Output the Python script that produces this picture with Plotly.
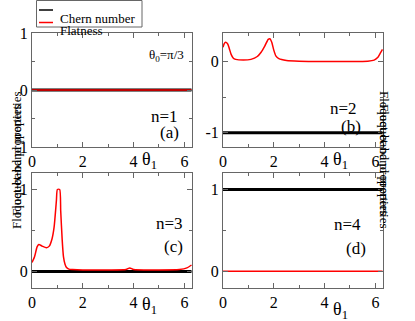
import plotly.graph_objects as go

# data
theta_flat = [0.0, 6.28]

chern_a = [0, 0]
flat_a = [0, 0]

theta_b = [0.0, 0.05, 0.1, 0.18, 0.25, 0.32, 0.4, 0.5, 0.8, 1.1, 1.35, 1.5, 1.65,
           1.78, 1.85, 1.92, 2.0, 2.08, 2.2, 2.5, 3.0, 4.0, 5.0, 5.7, 5.95, 6.1, 6.2, 6.28]
flat_b = [0.20, 0.25, 0.27, 0.25, 0.18, 0.10, 0.05, 0.03, 0.02, 0.03, 0.07, 0.13, 0.22,
          0.31, 0.32, 0.27, 0.16, 0.08, 0.04, 0.015, 0.005, 0.0, 0.0, 0.005, 0.02, 0.06, 0.12, 0.17]
chern_b = [-1, -1]

theta_c = [0.0, 0.1, 0.2, 0.27, 0.4, 0.57, 0.68, 0.79, 0.87, 0.96, 1.0, 1.09, 1.13,
           1.19, 1.24, 1.3, 1.36, 1.45, 1.6, 2.0, 3.0, 3.7, 3.85, 4.0, 5.0, 5.8, 6.1, 6.28]
flat_c = [0.11, 0.18, 0.30, 0.33, 0.31, 0.29, 0.31, 0.40, 0.54, 0.86, 1.0, 1.0, 0.74,
          0.38, 0.18, 0.09, 0.05, 0.03, 0.025, 0.02, 0.02, 0.025, 0.045, 0.025, 0.02, 0.025, 0.045, 0.08]
chern_c = [0, 0]

chern_d = [1, 1]
flat_d = [0.005, 0.005]

x_ticks = [0, 2, 4, 6]
x_minor = [1, 3, 5]
y_ticks_a = [-1, 0, 1]
y_text_a = ["-1", "0", "1"]
y_minor_a = [-0.5, 0.5]
y_ticks_b = [-1, 0]
y_text_b = ["-1", "0"]
y_minor_b = [-0.5]
y_ticks_cd = [0, 1]
y_text_cd = ["0", "1"]
y_minor_cd = [0.5]

n_labels = ["n=1", "n=2", "n=3", "n=4"]
panel_labels = ["(a)", "(b)", "(c)", "(d)"]

SERIF = "Liberation Serif, Times New Roman, serif"
AXIS = "#666666"
W, H = 415, 321


def px(x):
    return x / W


def py(y):
    return 1 - y / H


def x_axis(domain, anchor):
    return dict(
        domain=domain, anchor=anchor, range=[0, 6.3],
        tickmode="array", tickvals=x_ticks, ticktext=[str(v) for v in x_ticks],
        ticks="inside", ticklen=5, tickcolor=AXIS, linecolor=AXIS, linewidth=1,
        mirror="ticks", showgrid=False, zeroline=False,
        tickfont=dict(family=SERIF, size=16, color="black"),
        minor=dict(tickvals=x_minor, ticks="inside", ticklen=3, tickcolor=AXIS, showgrid=False),
    )


def y_axis(domain, anchor, rng, ticks, text, minor):
    return dict(
        domain=domain, anchor=anchor, range=rng,
        tickmode="array", tickvals=ticks, ticktext=text,
        ticks="inside", ticklen=5, tickcolor=AXIS, linecolor=AXIS, linewidth=1,
        mirror="ticks", showgrid=False, zeroline=False,
        tickfont=dict(family=SERIF, size=16, color="black"),
        minor=dict(tickvals=minor, ticks="inside", ticklen=3, tickcolor=AXIS, showgrid=False),
    )


fig = go.Figure()

panels = [
    ("x", "y", theta_flat, chern_a, theta_flat, flat_a),
    ("x2", "y2", theta_flat, chern_b, theta_b, flat_b),
    ("x3", "y3", theta_flat, chern_c, theta_c, flat_c),
    ("x4", "y4", theta_flat, chern_d, theta_flat, flat_d),
]
for xa, ya, tx_ch, ch, tx_fl, fl in panels:
    fig.add_trace(go.Scatter(x=tx_ch, y=ch, mode="lines", xaxis=xa, yaxis=ya,
                             line=dict(color="black", width=3), showlegend=False))
    fig.add_trace(go.Scatter(x=tx_fl, y=fl, mode="lines", xaxis=xa, yaxis=ya,
                             line=dict(color="red", width=1.5, shape="spline", smoothing=0.6),
                             showlegend=False))

left = [px(32), px(192)]
right = [px(223), px(383)]
top = [py(147), py(33)]
bottom = [py(288), py(173)]

fig.update_layout(
    width=W, height=H, margin=dict(l=0, r=0, t=0, b=0, autoexpand=False),
    paper_bgcolor="white", plot_bgcolor="white",
    font=dict(family=SERIF, color="black"),
    xaxis=x_axis(left, "y"),
    yaxis=y_axis(top, "x", [-1, 1], y_ticks_a, y_text_a, y_minor_a),
    xaxis2=x_axis(right, "y2"),
    yaxis2=y_axis(top, "x2", [-1.2, 0.4], y_ticks_b, y_text_b, y_minor_b),
    xaxis3=x_axis(left, "y3"),
    yaxis3=y_axis(bottom, "x3", [-0.2, 1.2], y_ticks_cd, y_text_cd, y_minor_cd),
    xaxis4=x_axis(right, "y4"),
    yaxis4=y_axis(bottom, "x4", [-0.2, 1.2], y_ticks_cd, y_text_cd, y_minor_cd),
)


def label(text, x, y, size, **kw):
    return dict(text=text, x=px(x), y=py(y), xref="paper", yref="paper", showarrow=False,
                borderpad=0, font=dict(family=SERIF, size=size, color="black"), **kw)


ann = []
# n and panel labels
n_pos = [(164, 116), (358, 108), (169, 234), (362, 235)]
p_pos = [(169, 133), (362, 127), (173, 257), (367, 259)]
for txt, (x, y) in zip(n_labels, n_pos):
    ann.append(label(txt, x, y, 17))
for txt, (x, y) in zip(panel_labels, p_pos):
    ann.append(label(txt, x, y, 17))

ann.append(label("θ<sub>0</sub>=π/3", 166, 46, 13))

# theta_1 axis labels
for xr, y in [("x", 160), ("x2", 160), ("x3", 305), ("x4", 310)]:
    ann.append(dict(text="θ<sub>1</sub>", x=4.3, y=py(y), xref=xr, yref="paper",
                    xanchor="left", yanchor="middle", showarrow=False, borderpad=0,
                    font=dict(family=SERIF, size=18, color="black")))

# y titles
for x, y, ang in [(8, 90, -90), (8, 230, -90), (393, 90, 90), (393, 230, 90)]:
    ann.append(label("Floquet-band properties", x, y, 13, textangle=ang))

# legend
ann.append(label("Chern number", 59, 10.5, 13, xanchor="left"))
ann.append(label("Flatness", 59, 22.5, 13, xanchor="left"))
fig.update_layout(annotations=ann)

fig.add_shape(type="rect", xref="paper", yref="paper", x0=px(36.5), x1=px(142), y0=py(27), y1=py(0.5),
              line=dict(color=AXIS, width=1), fillcolor="white")
fig.add_shape(type="line", xref="paper", yref="paper", x0=px(39), x1=px(53), y0=py(10), y1=py(10),
              line=dict(color="black", width=1.5))
fig.add_shape(type="line", xref="paper", yref="paper", x0=px(39), x1=px(53), y0=py(22.5), y1=py(22.5),
              line=dict(color="red", width=1.5))

# page body has a default 8px margin; drop it so the figure fills the window
fig.write_html("out.html", config={"displayModeBar": False},
               post_script="document.body.style.margin='0';")
